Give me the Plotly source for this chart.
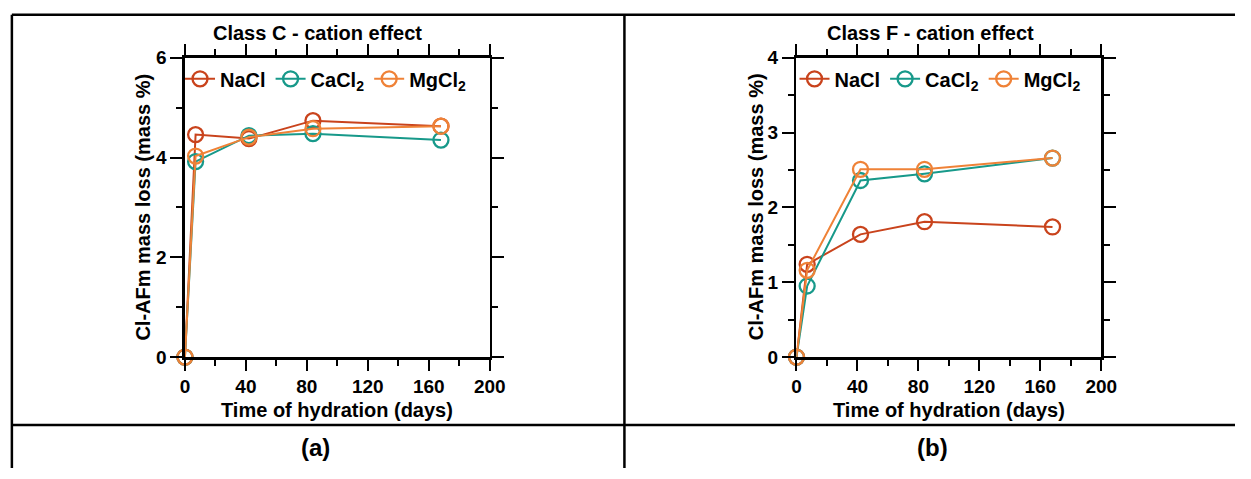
import plotly.graph_objects as go

W, H = 1251, 479

days = [0, 7, 42, 84, 168]

# Class C
c_nacl = [0, 4.46, 4.38, 4.74, 4.63]
c_cacl2 = [0, 3.92, 4.44, 4.48, 4.35]
c_mgcl2 = [0, 4.03, 4.41, 4.58, 4.63]

# Class F
f_nacl = [0, 1.24, 1.64, 1.81, 1.74]
f_cacl2 = [0, 0.95, 2.36, 2.45, 2.66]
f_mgcl2 = [0, 1.16, 2.51, 2.51, 2.66]

names = ["NaCl", "CaCl<sub>2</sub>", "MgCl<sub>2</sub>"]
colors = ["#C9431C", "#17998A", "#EF8237"]

x_ticks = [0, 40, 80, 120, 160, 200]
yC_ticks = [0, 2, 4, 6]
yF_ticks = [0, 1, 2, 3, 4]

FONT = "Liberation Sans, Arial, sans-serif"

def px_x(p):
    return p / W

def px_y(p):
    return 1 - p / H

fig = go.Figure()

for i, series in enumerate([c_nacl, c_cacl2, c_mgcl2]):
    fig.add_trace(go.Scatter(
        x=days, y=series, mode="lines+markers", name=names[i],
        line=dict(color=colors[i], width=2),
        marker=dict(symbol="circle-open", size=15, color=colors[i], line=dict(width=2.3, color=colors[i])),
        cliponaxis=False, xaxis="x", yaxis="y", legend="legend"))

for i, series in enumerate([f_nacl, f_cacl2, f_mgcl2]):
    fig.add_trace(go.Scatter(
        x=days, y=series, mode="lines+markers", name=names[i],
        line=dict(color=colors[i], width=2),
        marker=dict(symbol="circle-open", size=15, color=colors[i], line=dict(width=2.3, color=colors[i])),
        cliponaxis=False, xaxis="x2", yaxis="y2", legend="legend2"))

tickfont = dict(family=FONT, size=19, color="black", weight="bold")

def xaxis(domain, anchor):
    return dict(domain=domain, anchor=anchor, range=[0, 200], tickvals=x_ticks,
                showline=True, linewidth=2.5, linecolor="black", mirror="ticks",
                ticks="outside", ticklen=11, tickwidth=2, tickcolor="black",
                minor=dict(dtick=20, tick0=0, ticks="outside", ticklen=6, tickwidth=2, tickcolor="black"),
                showgrid=False, zeroline=False, tickfont=tickfont, fixedrange=True)

def yaxis(domain, anchor, rng, vals, minor_dt):
    return dict(domain=domain, anchor=anchor, range=rng, tickvals=vals,
                showline=True, linewidth=2.5, linecolor="black", mirror="ticks",
                ticks="outside", ticklen=12, tickwidth=2, tickcolor="black",
                minor=dict(dtick=minor_dt, tick0=0, ticks="outside", ticklen=6, tickwidth=2, tickcolor="black"),
                showgrid=False, zeroline=False, tickfont=tickfont, fixedrange=True)

ydom = [px_y(363), px_y(50)]

leg_common = dict(orientation="h", font=dict(family=FONT, size=20, color="black", weight="bold"),
                  bgcolor="rgba(0,0,0,0)", yanchor="middle", xanchor="left", itemclick=False,
                  tracegroupgap=0)

fig.update_layout(
    width=W, height=H, autosize=False, margin=dict(l=0, r=0, t=0, b=0),
    paper_bgcolor="white", plot_bgcolor="white",
    xaxis=xaxis([px_x(183), px_x(493)], "y"),
    yaxis=yaxis(ydom, "x", [0, 6], yC_ticks, 1),
    xaxis2=xaxis([px_x(805), px_x(1115)], "y2"),
    yaxis2=yaxis(ydom, "x2", [0, 4], yF_ticks, 0.5),
    legend=dict(x=px_x(178), y=px_y(72), **leg_common),
    legend2=dict(x=px_x(803), y=px_y(72), **leg_common),
    showlegend=True,
)

ann_font = dict(family=FONT, size=20, color="black", weight="bold")
annotations = [
    dict(text="Class C - cation effect", x=px_x(318), y=px_y(24)),
    dict(text="Class F - cation effect", x=px_x(941), y=px_y(24)),
    dict(text="Time of hydration (days)", x=px_x(338), y=px_y(418)),
    dict(text="Time of hydration (days)", x=px_x(960), y=px_y(418)),
    dict(text="Cl-AFm mass loss (mass %)", x=px_x(140), y=px_y(206), textangle=-90),
    dict(text="Cl-AFm mass loss (mass %)", x=px_x(764), y=px_y(206), textangle=-90),
]
for a in annotations:
    fig.add_annotation(xref="paper", yref="paper", showarrow=False, font=ann_font,
                       xanchor="center", yanchor="middle", **a)

for lab, xc in [("(a)", 316), ("(b)", 943)]:
    fig.add_annotation(xref="paper", yref="paper", showarrow=False, text=lab,
                       x=px_x(xc), y=px_y(458), xanchor="center", yanchor="middle",
                       font=dict(family=FONT, size=24, color="black", weight="bold"))

# table borders
border = dict(color="black", width=2.5)
for (x0, y0, x1, y1) in [(7, 5, 1251, 5), (7, 5, 7, 479), (630, 5, 630, 479), (7, 434, 1251, 434)]:
    fig.add_shape(type="line", xref="paper", yref="paper",
                  x0=px_x(x0), y0=px_y(y0), x1=px_x(x1), y1=px_y(y1), line=border)

fig.write_html("out.html",
               config={"displayModeBar": False, "responsive": False, "staticPlot": True},
               post_script="document.body.style.margin='0';document.body.style.overflow='hidden';")
